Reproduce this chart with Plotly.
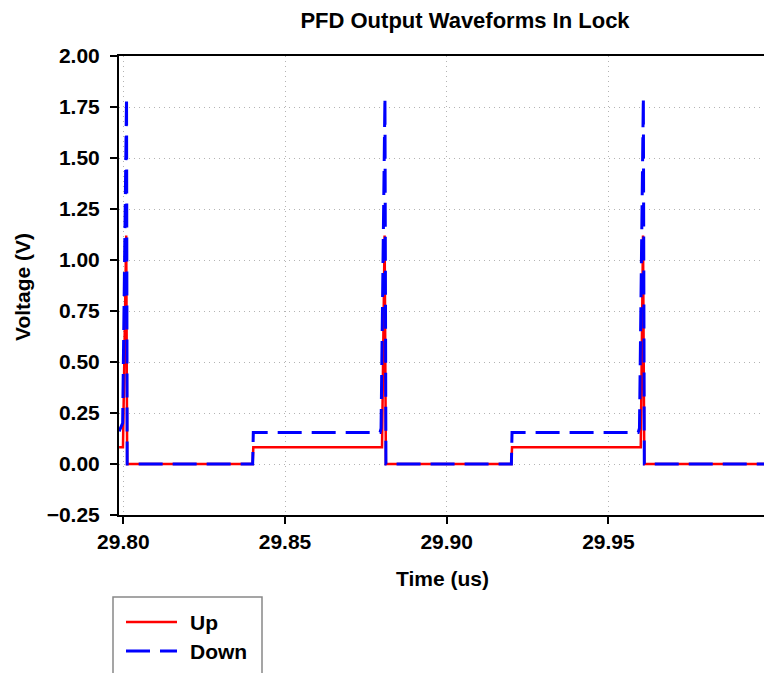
import plotly.graph_objects as go

# Time axis (us) breakpoints and PFD output levels (V)
up_t = [29.7987, 29.7999, 29.8009, 29.8012, 29.8400, 29.8402, 29.8800, 29.8808, 29.8812,
        29.9200, 29.9202, 29.9600, 29.9607, 29.9611, 29.9990]
up_v = [0.082, 0.082, 1.12, 0.0, 0.0, 0.082, 0.082, 1.12, 0.0,
        0.0, 0.082, 0.082, 1.12, 0.0, 0.0]

down_t = [29.7987, 29.7998, 29.8010, 29.8012, 29.8400, 29.8402, 29.8794, 29.8797, 29.8809,
          29.8812, 29.9200, 29.9202, 29.9592, 29.9596, 29.9608, 29.9611, 29.9990]
down_v = [0.16, 0.20, 1.80, 0.0, 0.0, 0.155, 0.155, 0.175, 1.80,
          0.0, 0.0, 0.155, 0.155, 0.175, 1.80, 0.0, 0.0]

x_ticks = [29.80, 29.85, 29.90, 29.95]
y_ticks = [-0.25, 0.00, 0.25, 0.50, 0.75, 1.00, 1.25, 1.50, 1.75, 2.00]

W, H = 764, 673
L, R, T, B = 119, 0, 56, 158
PW, PH = W - L - R, H - T - B

FONT = "Liberation Sans, Arial, sans-serif"


def px(x):
    return (x - L) / PW


def py(y):
    return (H - B - y) / PH


fig = go.Figure()
fig.add_trace(go.Scatter(x=up_t, y=up_v, mode="lines", name="Up",
                         line=dict(color="#ff0000", width=2.5)))
fig.add_trace(go.Scatter(x=down_t, y=down_v, mode="lines", name="Down",
                         line=dict(color="#0000ff", width=3, dash="24px,10px")))

axis_common = dict(
    showline=True, linecolor="black", linewidth=2,
    ticks="outside", ticklen=7, tickcolor="black", tickwidth=1.5,
    showgrid=True, gridcolor="#b4b4b4", gridwidth=1, griddash="1px,4px",
    zeroline=False, automargin=False,
    tickfont=dict(family=FONT, size=21, color="black", weight="bold"),
    tickformat=".2f",
)

fig.update_xaxes(range=[29.79867, 29.99811], tickvals=x_ticks, mirror=True,
                 **axis_common)
fig.update_yaxes(range=[-0.25, 2.0], tickvals=y_ticks, ticklabelstandoff=6,
                 **axis_common)

# legend box with line samples
shapes = [
    dict(type="rect", xref="paper", yref="paper",
         x0=px(113), x1=px(262), y0=py(700), y1=py(597),
         line=dict(color="#888888", width=1.5), fillcolor="white"),
    dict(type="line", xref="paper", yref="paper",
         x0=px(126), x1=px(177), y0=py(622), y1=py(622),
         line=dict(color="#ff0000", width=2.5)),
    dict(type="line", xref="paper", yref="paper",
         x0=px(126), x1=px(177), y0=py(651), y1=py(651),
         line=dict(color="#0000ff", width=3, dash="24px,10px")),
]

label_font = dict(family=FONT, size=21, color="black", weight="bold")
annotations = [
    dict(text="Up", xref="paper", yref="paper", x=px(188), y=py(622),
         xanchor="left", yanchor="middle", showarrow=False, font=label_font),
    dict(text="Down", xref="paper", yref="paper", x=px(188), y=py(651),
         xanchor="left", yanchor="middle", showarrow=False, font=label_font),
    dict(text="Time (us)", xref="paper", yref="paper", x=px(442), y=py(578),
         xanchor="center", yanchor="middle", showarrow=False, font=label_font),
    dict(text="Voltage (V)", xref="paper", yref="paper", x=px(22), y=py(287),
         xanchor="center", yanchor="middle", textangle=-90, showarrow=False,
         font=label_font),
]

fig.update_layout(
    width=W, height=H,
    margin=dict(l=L, r=R, t=T, b=B, pad=0),
    paper_bgcolor="white", plot_bgcolor="white",
    showlegend=False,
    title=dict(text="PFD Output Waveforms In Lock", xref="paper", x=px(465),
               xanchor="center", yref="container", y=1 - 20 / H, yanchor="middle",
               font=dict(family=FONT, size=22, color="black", weight="bold")),
    shapes=shapes,
    annotations=annotations,
)

fig.write_html("out.html")
